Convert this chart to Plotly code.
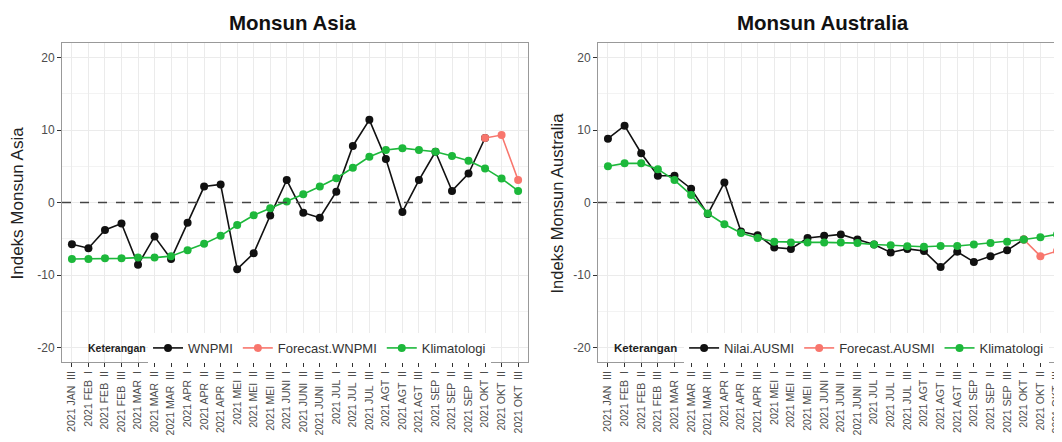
import plotly.graph_objects as go

categories = ["2021 JAN  III", "2021 FEB  I", "2021 FEB  II", "2021 FEB  III",
              "2021 MAR  I", "2021 MAR  II", "2021 MAR  III",
              "2021 APR  I", "2021 APR  II", "2021 APR  III",
              "2021 MEI  I", "2021 MEI  II", "2021 MEI  III",
              "2021 JUNI  I", "2021 JUNI  II", "2021 JUNI  III",
              "2021 JUL  I", "2021 JUL  II", "2021 JUL  III",
              "2021 AGT  I", "2021 AGT  II", "2021 AGT  III",
              "2021 SEP  I", "2021 SEP  II", "2021 SEP  III",
              "2021 OKT  I", "2021 OKT  II", "2021 OKT  III"]

y_tickvals = [-20, -10, 0, 10, 20]
y_ticktext = ["-20", "-10", "0", "10", "20"]

wnpmi = [-5.75, -6.3, -3.8, -2.9, -8.6, -4.7, -7.8, -2.8, 2.2, 2.5,
         -9.2, -7.0, -1.8, 3.1, -1.4, -2.1, 1.5, 7.8, 11.4, 6.0,
         -1.3, 3.1, 7.0, 1.6, 4.0, 8.9, None, None]
forecast_wnpmi = [None] * 25 + [8.9, 9.3, 3.1]
klim_asia = [-7.8, -7.8, -7.7, -7.7, -7.6, -7.6, -7.4, -6.6, -5.7, -4.6,
             -3.1, -1.75, -0.8, 0.15, 1.15, 2.2, 3.35, 4.8, 6.3, 7.25,
             7.5, 7.25, 7.0, 6.4, 5.75, 4.7, 3.3, 1.6]

ausmi = [8.8, 10.6, 6.8, 3.7, 3.7, 1.9, -1.6, 2.75, -4.0, -4.5,
         -6.2, -6.4, -4.9, -4.6, -4.4, -5.1, -5.8, -6.9, -6.4, -6.7,
         -8.9, -6.8, -8.2, -7.4, -6.6, -5.1, None, None]
forecast_ausmi = [None] * 25 + [-5.1, -7.4, -6.7]
klim_aus = [5.0, 5.4, 5.4, 4.6, 3.1, 1.05, -1.5, -3.0, -4.2, -4.9,
            -5.4, -5.5, -5.5, -5.5, -5.5, -5.6, -5.8, -5.9, -6.05, -6.1,
            -6.0, -6.0, -5.8, -5.6, -5.4, -5.1, -4.8, -4.4]

BLACK = "#111111"
RED = "#F8766D"
GREEN = "#1DB83B"
FONT = "Liberation Sans, Arial, sans-serif"

fig = go.Figure()


def add(y, name, color, xa, ya, legend):
    fig.add_trace(go.Scatter(
        x=categories, y=y, name=name, mode="lines+markers",
        line=dict(color=color, width=1.6),
        marker=dict(color=color, size=8),
        xaxis=xa, yaxis=ya, legend=legend, connectgaps=False))


add(wnpmi, "WNPMI", BLACK, "x", "y", "legend")
add(forecast_wnpmi, "Forecast.WNPMI", RED, "x", "y", "legend")
add(klim_asia, "Klimatologi", GREEN, "x", "y", "legend")
add(ausmi, "Nilai.AUSMI", BLACK, "x2", "y2", "legend2")
add(forecast_ausmi, "Forecast.AUSMI", RED, "x2", "y2", "legend2")
add(klim_aus, "Klimatologi", GREEN, "x2", "y2", "legend2")

xcommon = dict(type="category", categoryorder="array", categoryarray=categories,
               range=[-0.6, 27.6], tickangle=-90, showgrid=True,
               gridcolor="#EBEBEB", gridwidth=1, ticks="outside", ticklen=4,
               tickcolor="#333333", tickfont=dict(size=10.5, color="#4D4D4D", family=FONT),
               showline=True, linecolor="#999999", linewidth=1, mirror=True,
               zeroline=False)
ycommon = dict(range=[-22, 22], tickvals=y_tickvals, ticktext=y_ticktext, showgrid=True,
               gridcolor="#EBEBEB", gridwidth=1,
               minor=dict(tickvals=[-15, -5, 5, 15], showgrid=True,
                          gridcolor="#F3F3F3", gridwidth=0.6),
               ticks="outside", ticklen=4, tickcolor="#333333",
               tickfont=dict(size=12, color="#4D4D4D", family=FONT),
               showline=True, linecolor="#999999", linewidth=1, mirror=True,
               zeroline=False)

legend_common = dict(orientation="h", xanchor="left", y=0.044, yanchor="middle",
                     bgcolor="white", font=dict(size=13, color="#333333", family=FONT),
                     itemwidth=30, tracegroupgap=0)

fig.update_layout(
    width=1062, height=442,
    margin=dict(l=54, r=3, t=35, b=88),
    paper_bgcolor="white", plot_bgcolor="white",
    font=dict(family=FONT, color="#222222"),
    xaxis=dict(domain=[0, 0.4637], anchor="y", **xcommon),
    yaxis=dict(domain=[0, 1], anchor="x", **ycommon),
    xaxis2=dict(domain=[0.5333, 1], anchor="y2", **xcommon),
    yaxis2=dict(domain=[0, 1], anchor="x2", **ycommon),
    legend=dict(x=0.0856, **legend_common),
    legend2=dict(x=0.619, **legend_common),
    shapes=[
        dict(type="line", xref="x domain", yref="y", x0=0, x1=1, y0=0, y1=0,
             line=dict(color="#444444", width=1.5, dash="dash"), layer="above"),
        dict(type="line", xref="x2 domain", yref="y2", x0=0, x1=1, y0=0, y1=0,
             line=dict(color="#444444", width=1.5, dash="dash"), layer="above"),
    ],
    annotations=[
        dict(text="<b>Monsun Asia</b>", xref="paper", yref="paper", x=0.229, y=1,
             xanchor="center", yanchor="middle", yshift=21, showarrow=False,
             font=dict(size=20.5, color="#111111", family=FONT)),
        dict(text="<b>Monsun Australia</b>", xref="paper", yref="paper", x=0.757, y=1,
             xanchor="center", yanchor="middle", yshift=21, showarrow=False,
             font=dict(size=20.5, color="#111111", family=FONT)),
        dict(text="Indeks Monsun Asia", xref="paper", yref="paper", x=-0.0438, y=0.5,
             xanchor="center", yanchor="middle",
             textangle=-90, showarrow=False, font=dict(size=17, color="#222222", family=FONT)),
        dict(text="Indeks Monsun Australia", xref="paper", yref="paper", x=0.4925, y=0.5,
             xanchor="center", yanchor="middle",
             textangle=-90, showarrow=False, font=dict(size=16.5, color="#222222", family=FONT)),
        dict(text="<b>Keterangan</b>", xref="paper", yref="y", x=0.0856, y=-20,
             xanchor="right", yanchor="middle", showarrow=False,
             font=dict(size=10.5, color="#222222", family=FONT)),
        dict(text="<b>Keterangan</b>", xref="paper", yref="y2", x=0.614, y=-20,
             xanchor="right", yanchor="middle", showarrow=False,
             font=dict(size=11.5, color="#222222", family=FONT)),
    ],
)

fig.write_html("out.html")
